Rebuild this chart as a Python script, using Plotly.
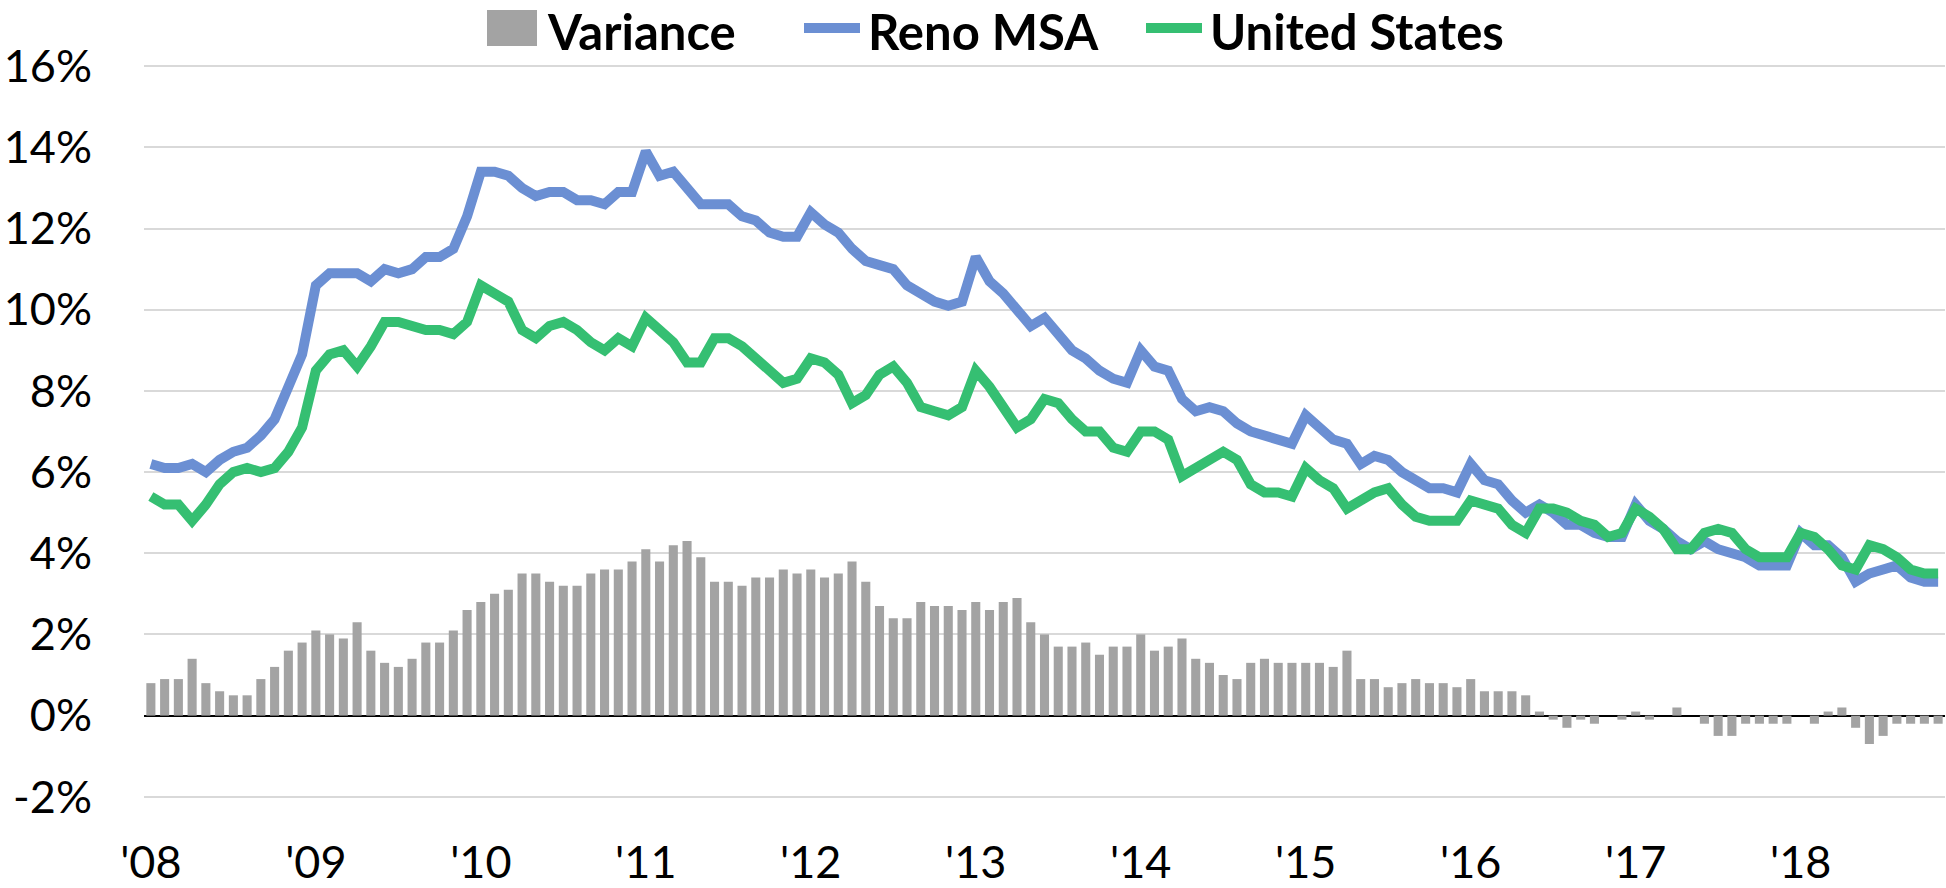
import plotly.graph_objects as go

# ---- Data (monthly, Jan 2008 - Nov 2018), unemployment rate in % ----
year_labels = ["'08", "'09", "'10", "'11", "'12", "'13", "'14", "'15", "'16", "'17", "'18"]

reno_msa = [
    6.2, 6.1, 6.1, 6.2, 6.0, 6.3, 6.5, 6.6, 6.9, 7.3, 8.1, 8.9,
    10.6, 10.9, 10.9, 10.9, 10.7, 11.0, 10.9, 11.0, 11.3, 11.3, 11.5, 12.3,
    13.4, 13.4, 13.3, 13.0, 12.8, 12.9, 12.9, 12.7, 12.7, 12.6, 12.9, 12.9,
    13.9, 13.3, 13.4, 13.0, 12.6, 12.6, 12.6, 12.3, 12.2, 11.9, 11.8, 11.8,
    12.4, 12.1, 11.9, 11.5, 11.2, 11.1, 11.0, 10.6, 10.4, 10.2, 10.1, 10.2,
    11.3, 10.7, 10.4, 10.0, 9.6, 9.8, 9.4, 9.0, 8.8, 8.5, 8.3, 8.2,
    9.0, 8.6, 8.5, 7.8, 7.5, 7.6, 7.5, 7.2, 7.0, 6.9, 6.8, 6.7,
    7.4, 7.1, 6.8, 6.7, 6.2, 6.4, 6.3, 6.0, 5.8, 5.6, 5.6, 5.5,
    6.2, 5.8, 5.7, 5.3, 5.0, 5.2, 5.0, 4.7, 4.7, 4.5, 4.4, 4.4,
    5.2, 4.8, 4.6, 4.3, 4.1, 4.3, 4.1, 4.0, 3.9, 3.7, 3.7, 3.7,
    4.5, 4.2, 4.2, 3.9, 3.3, 3.5, 3.6, 3.7, 3.4, 3.3, 3.3,
]

united_states = [
    5.4, 5.2, 5.2, 4.8, 5.2, 5.7, 6.0, 6.1, 6.0, 6.1, 6.5, 7.1,
    8.5, 8.9, 9.0, 8.6, 9.1, 9.7, 9.7, 9.6, 9.5, 9.5, 9.4, 9.7,
    10.6, 10.4, 10.2, 9.5, 9.3, 9.6, 9.7, 9.5, 9.2, 9.0, 9.3, 9.1,
    9.8, 9.5, 9.2, 8.7, 8.7, 9.3, 9.3, 9.1, 8.8, 8.5, 8.2, 8.3,
    8.8, 8.7, 8.4, 7.7, 7.9, 8.4, 8.6, 8.2, 7.6, 7.5, 7.4, 7.6,
    8.5, 8.1, 7.6, 7.1, 7.3, 7.8, 7.7, 7.3, 7.0, 7.0, 6.6, 6.5,
    7.0, 7.0, 6.8, 5.9, 6.1, 6.3, 6.5, 6.3, 5.7, 5.5, 5.5, 5.4,
    6.1, 5.8, 5.6, 5.1, 5.3, 5.5, 5.6, 5.2, 4.9, 4.8, 4.8, 4.8,
    5.3, 5.2, 5.1, 4.7, 4.5, 5.1, 5.1, 5.0, 4.8, 4.7, 4.4, 4.5,
    5.1, 4.9, 4.6, 4.1, 4.1, 4.5, 4.6, 4.5, 4.1, 3.9, 3.9, 3.9,
    4.5, 4.4, 4.1, 3.7, 3.6, 4.2, 4.1, 3.9, 3.6, 3.5, 3.5,
]

variance = [
    0.8, 0.9, 0.9, 1.4, 0.8, 0.6, 0.5, 0.5, 0.9, 1.2, 1.6, 1.8,
    2.1, 2.0, 1.9, 2.3, 1.6, 1.3, 1.2, 1.4, 1.8, 1.8, 2.1, 2.6,
    2.8, 3.0, 3.1, 3.5, 3.5, 3.3, 3.2, 3.2, 3.5, 3.6, 3.6, 3.8,
    4.1, 3.8, 4.2, 4.3, 3.9, 3.3, 3.3, 3.2, 3.4, 3.4, 3.6, 3.5,
    3.6, 3.4, 3.5, 3.8, 3.3, 2.7, 2.4, 2.4, 2.8, 2.7, 2.7, 2.6,
    2.8, 2.6, 2.8, 2.9, 2.3, 2.0, 1.7, 1.7, 1.8, 1.5, 1.7, 1.7,
    2.0, 1.6, 1.7, 1.9, 1.4, 1.3, 1.0, 0.9, 1.3, 1.4, 1.3, 1.3,
    1.3, 1.3, 1.2, 1.6, 0.9, 0.9, 0.7, 0.8, 0.9, 0.8, 0.8, 0.7,
    0.9, 0.6, 0.6, 0.6, 0.5, 0.1, -0.1, -0.3, -0.1, -0.2, 0.0, -0.1,
    0.1, -0.1, 0.0, 0.2, 0.0, -0.2, -0.5, -0.5, -0.2, -0.2, -0.2, -0.2,
    0.0, -0.2, 0.1, 0.2, -0.3, -0.7, -0.5, -0.2, -0.2, -0.2, -0.2,
]

y_ticks = [-2, 0, 2, 4, 6, 8, 10, 12, 14, 16]

# ---- Styling ----
FONT = "Lato"
GRAY = "#A3A3A3"
BLUE = "#6B8FD3"
GREEN = "#35BF72"
LINE_W = 10

W, H = 1946, 888
M_L, M_R, M_T, M_B = 144, 1, 65, 90
PW, PH = W - M_L - M_R, H - M_T - M_B


def px_x(X):
    return (X - M_L) / PW


def px_y(Y):
    return 1 + (M_T - Y) / PH


months = list(range(len(reno_msa)))
x_tickvals = [months[i] for i in range(0, len(months), 12)]

fig = go.Figure()
fig.add_trace(go.Bar(
    x=months, y=variance, name="Variance",
    marker=dict(color=GRAY, line=dict(width=0)),
    width=0.66, showlegend=False,
))
fig.add_trace(go.Scatter(
    x=months, y=reno_msa, name="Reno MSA", mode="lines",
    line=dict(color=BLUE, width=LINE_W), showlegend=False,
))
fig.add_trace(go.Scatter(
    x=months, y=united_states, name="United States", mode="lines",
    line=dict(color=GREEN, width=LINE_W), showlegend=False,
))

# ---- Legend (drawn to match the original's large symbols) ----
legend_items = [
    ("Variance", "rect", GRAY, 487, 537, 545),
    ("Reno MSA", "line", BLUE, 804, 860, 866),
    ("United States", "line", GREEN, 1146, 1202, 1208),
]
SYM_Y = 28
TEXT_Y = 31
shapes = []
annotations = []
for label, kind, color, sx0, sx1, tx in legend_items:
    if kind == "rect":
        shapes.append(dict(type="rect", xref="paper", yref="paper",
                           x0=px_x(sx0), x1=px_x(sx1), y0=px_y(SYM_Y + 18), y1=px_y(SYM_Y - 18),
                           fillcolor=color, line=dict(width=0)))
    else:
        shapes.append(dict(type="line", xref="paper", yref="paper",
                           x0=px_x(sx0), x1=px_x(sx1), y0=px_y(SYM_Y), y1=px_y(SYM_Y),
                           line=dict(color=color, width=10)))
    annotations.append(dict(text=label, xref="paper", yref="paper",
                            x=px_x(tx), y=px_y(TEXT_Y), xanchor="left", yanchor="middle",
                            showarrow=False,
                            font=dict(family=FONT, size=49, color="black", weight="bold")))

fig.update_layout(
    width=W, height=H,
    margin=dict(l=M_L, r=M_R, t=M_T, b=M_B, autoexpand=False),
    paper_bgcolor="white", plot_bgcolor="white",
    font=dict(family=FONT, size=45, color="black"),
    showlegend=False,
    shapes=shapes, annotations=annotations,
    bargap=0.3,
)

fig.update_xaxes(
    range=[-0.5, len(months) - 0.5],
    tickmode="array", tickvals=x_tickvals, ticktext=year_labels,
    showgrid=False, zeroline=False, showline=False, ticks="",
    tickfont=dict(family=FONT, size=45, color="black"),
    ticklabelstandoff=34, automargin=False,
)
fig.update_yaxes(
    range=[-2.03, 16.03],
    tickmode="array", tickvals=y_ticks, ticktext=[f"{v}%" for v in y_ticks],
    showgrid=True, gridcolor="#D9D9D9", gridwidth=2,
    zeroline=True, zerolinecolor="black", zerolinewidth=2,
    showline=False, ticks="",
    tickfont=dict(family=FONT, size=45, color="black"),
    ticklabelstandoff=51, automargin=False,
)

fig.write_html(
    "out.html",
    config={"displayModeBar": False},
    post_script="document.body.style.margin='0';document.body.style.overflow='hidden';",
)
